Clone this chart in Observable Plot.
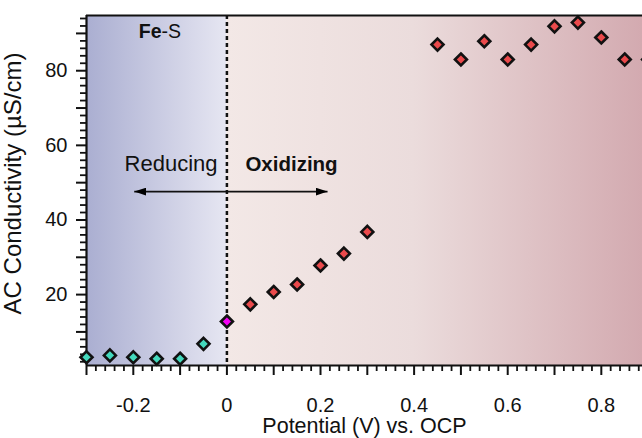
<!DOCTYPE html>
<html>
<head>
<meta charset="utf-8">
<script src="https://cdn.jsdelivr.net/npm/d3@7"></script>
<script src="https://cdn.jsdelivr.net/npm/@observablehq/plot@0.6"></script>
<style>
  body { margin: 0; background: #ffffff; }
  #chart svg { display: block; font-family: "Liberation Sans", Arial, sans-serif; }
</style>
</head>
<body>
<div id="chart"></div>
<script>
// ---- data ----
const reducingX = [-0.3, -0.25, -0.2, -0.15, -0.1, -0.05];
const reducingY = [3.2, 3.7, 3.2, 2.8, 2.8, 6.8];
const ocpX = [0];
const ocpY = [12.8];
const oxidizingX = [0.05, 0.1, 0.15, 0.2, 0.25, 0.3, 0.45, 0.5, 0.55, 0.6, 0.65, 0.7, 0.75, 0.8, 0.85, 0.9];
const oxidizingY = [17.4, 20.7, 22.7, 27.8, 31.0, 36.8, 87.0, 83.0, 87.9, 83.0, 87.0, 91.9, 92.9, 88.9, 83.0, 83.0];
const xTickLabels = [-0.2, 0, 0.2, 0.4, 0.6, 0.8];
const yTickLabels = [20, 40, 60, 80];
const regionNames = ["Reducing", "Oxidizing"];
const regionBounds = [[-0.3, 0], [0, 0.888]];
const arrowTips = [-0.198, 0.215];
const arrowLevel = 47.6;

// ---- helpers ----
const xDomain = [-0.3, 0.888];
const yDomain = [1, 94.8];
const majorX = d3.range(-3, 9).map(d => d / 10);
const minorX = d3.range(-15, 45).map(d => d / 50).filter(d => Math.abs(Math.round(d * 10) - d * 10) > 1e-6);
const majorY = d3.range(10, 100, 10);
const minorY = d3.range(2, 95, 2).filter(d => d % 10 !== 0);

const points = [
  ...reducingX.map((x, i) => ({x, y: reducingY[i], group: "reducing"})),
  ...ocpX.map((x, i) => ({x, y: ocpY[i], group: "ocp"})),
  ...oxidizingX.map((x, i) => ({x, y: oxidizingY[i], group: "oxidizing"}))
];
const colors = {reducing: "#44d9bd", ocp: "#f400f4", oxidizing: "#ea4a4c"};

const regions = regionNames.map((name, i) => ({name, x1: regionBounds[i][0], x2: regionBounds[i][1]}));

function fmtX(d) {
  const r = Math.round(d * 10) / 10;
  return xTickLabels.some(v => Math.abs(v - r) < 1e-9) ? String(r) : "";
}
function fmtY(d) {
  return yTickLabels.includes(d) ? String(d) : "";
}

function gradientDefs() {
  const defs = d3.create("svg:defs");
  const g1 = defs.append("linearGradient").attr("id", "gradReduce")
    .attr("x1", 0).attr("x2", 1).attr("y1", 0).attr("y2", 0);
  g1.append("stop").attr("offset", "0%").attr("stop-color", "#aaaed1");
  g1.append("stop").attr("offset", "100%").attr("stop-color", "#e6e6f2");
  const g2 = defs.append("linearGradient").attr("id", "gradOxid")
    .attr("x1", 0).attr("x2", 1).attr("y1", 0).attr("y2", 0);
  g2.append("stop").attr("offset", "0%").attr("stop-color", "#f3e8e6");
  g2.append("stop").attr("offset", "45%").attr("stop-color", "#ebdcdc");
  g2.append("stop").attr("offset", "100%").attr("stop-color", "#d3aab0");
  return defs.node();
}

function headMarker(color, context) {
  const doc = (context && context.document) || document;
  const m = d3.select(doc.createElementNS("http://www.w3.org/2000/svg", "marker"))
    .attr("viewBox", "-12 -4 12 8")
    .attr("markerUnits", "userSpaceOnUse")
    .attr("markerWidth", 12)
    .attr("markerHeight", 8)
    .attr("refX", 0)
    .attr("refY", 0)
    .attr("orient", "auto");
  m.append("path").attr("d", "M-12,-4L0,0L-12,4Z").attr("fill", "black").attr("stroke", "none");
  return m.node();
}

const chart = Plot.plot({
  width: 642,
  height: 438,
  marginLeft: 86,
  marginRight: 0,
  marginTop: 15,
  marginBottom: 73,
  style: {fontFamily: "'Liberation Sans', Arial, sans-serif", background: "#ffffff", color: "#111"},
  x: {domain: xDomain},
  y: {domain: yDomain},
  marks: [
    gradientDefs,
    Plot.rectY(regions, {x1: "x1", x2: "x2", y1: yDomain[0], y2: yDomain[1], fill: d => d.name === "Reducing" ? "url(#gradReduce)" : "url(#gradOxid)"}),
    Plot.ruleX([0], {stroke: "#111", strokeWidth: 2.5, strokeDasharray: "4,3"}),
    // frame lines
    Plot.ruleX([xDomain[0]], {stroke: "#111", strokeWidth: 2.2}),
    Plot.ruleY([yDomain[1]], {stroke: "#111", strokeWidth: 2.2}),
    Plot.ruleY([yDomain[0]], {stroke: "#111", strokeWidth: 2.2}),
    // axes
    Plot.axisX(majorX, {tickSize: 10, tickPadding: 22, tickFormat: fmtX, fontSize: 20, strokeWidth: 2, label: null}),
    Plot.axisX(minorX, {tickSize: 6, tickFormat: () => "", strokeWidth: 1.8, label: null}),
    Plot.axisY(majorY, {tickSize: 10, tickPadding: 9, tickFormat: fmtY, fontSize: 20, strokeWidth: 2, label: null}),
    Plot.axisY(minorY, {tickSize: 6, tickFormat: () => "", strokeWidth: 1.8, label: null}),
    // axis titles
    Plot.text(["Potential (V) vs. OCP"], {frameAnchor: "bottom", lineAnchor: "bottom", dy: 67, fontSize: 21.5, fill: "#111"}),
    Plot.text(["AC Conductivity (µS/cm)"], {frameAnchor: "left", rotate: -90, textAnchor: "middle", lineAnchor: "top", dx: -83, dy: -7, fontSize: 24, fill: "#111"}),
    // annotations
    Plot.link(arrowTips, {x1: 0, x2: d => d, y1: arrowLevel, y2: arrowLevel, stroke: "#111", strokeWidth: 1.6, markerEnd: headMarker}),
    Plot.text(["Reducing"], {frameAnchor: "top-left", dx: 84.5, dy: 155, lineAnchor: "bottom", textAnchor: "middle", fontSize: 22, fill: "#111"}),
    Plot.text(["Oxidizing"], {frameAnchor: "top-left", dx: 205, dy: 155, lineAnchor: "bottom", textAnchor: "middle", fontSize: 20.5, fontWeight: "bold", fill: "#111"}),
    Plot.text(["Fe"], {frameAnchor: "top-left", dx: 75, dy: 22.5, lineAnchor: "bottom", textAnchor: "end", fontSize: 19.5, fontWeight: "bold", fill: "#111"}),
    Plot.text(["-S"], {frameAnchor: "top-left", dx: 75, dy: 22.5, lineAnchor: "bottom", textAnchor: "start", fontSize: 19.5, fill: "#111"}),
    // data points
    Plot.dot(points, {x: "x", y: "y", symbol: "diamond2", r: 5.4, fill: d => colors[d.group], stroke: "#111", strokeWidth: 2.6})
  ]
});
document.getElementById("chart").appendChild(chart);
</script>
</body>
</html>
